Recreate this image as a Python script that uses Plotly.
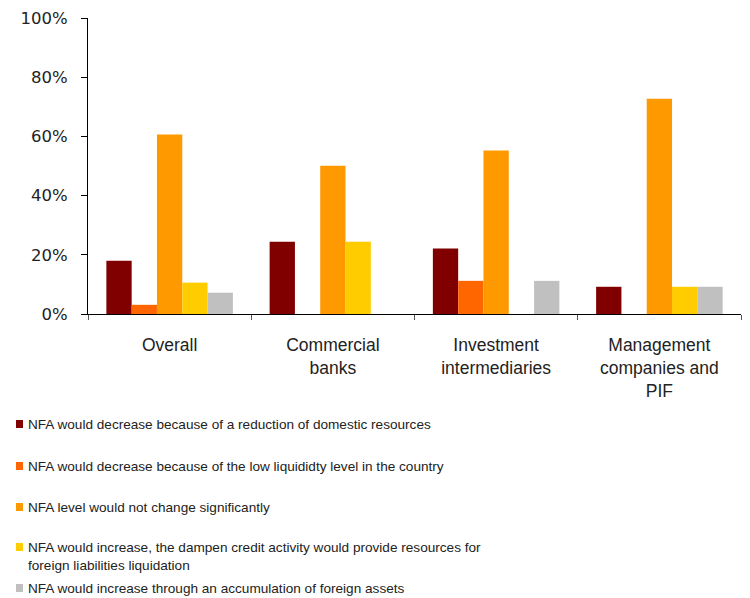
import plotly.graph_objects as go

categories = [
    "Overall",
    "Commercial<br>banks",
    "Investment<br>intermediaries",
    "Management<br>companies and<br>PIF",
]

series_names = [
    "NFA would decrease because of a reduction of domestic resources",
    "NFA would decrease because of the low liquididty level in the country",
    "NFA level would not change significantly",
    "NFA would increase, the dampen credit activity would provide resources for<br>foreign liabilities liquidation",
    "NFA would increase through an accumulation of foreign assets",
]

decrease_domestic = [18.0, 24.4, 22.1, 9.2]
decrease_liquidity = [3.1, 0.0, 11.2, 0.0]
no_change = [60.6, 50.1, 55.2, 72.7]
increase_credit = [10.6, 24.4, 0.0, 9.2]
increase_foreign = [7.2, 0.0, 11.2, 9.2]

series_values = [decrease_domestic, decrease_liquidity, no_change,
                 increase_credit, increase_foreign]
colors = ["#800000", "#FF6600", "#FF9900", "#FFCC00", "#C0C0C0"]

y_ticks = [0, 20, 40, 60, 80, 100]
y_ticktext = [f"{v}%" for v in y_ticks]

# plot-area geometry in pixels (used for the hand-built legend below)
W, H = 750, 598
L, R, T, B = 88, 9, 18, 284
PW, PH = W - L - R, H - T - B


def to_paper(px, py):
    return (px - L) / PW, (H - B - py) / PH


fig = go.Figure()
for name, vals, col in zip(series_names, series_values, colors):
    fig.add_trace(go.Bar(
        x=categories, y=vals, name=name,
        marker=dict(color=col, line=dict(width=0)),
        showlegend=False,
    ))

# legend: small square swatch followed by the series text
legend_rows = [424, 466, 507, 547, 588]
shapes, annotations = [], []
for name, col, cy in zip(series_names, colors, legend_rows):
    x0, y0 = to_paper(16, cy - 4)
    x1, y1 = to_paper(23, cy + 4)
    shapes.append(dict(type="rect", xref="paper", yref="paper",
                       x0=x0, x1=x1, y0=y1, y1=y0,
                       fillcolor=col, line=dict(width=0)))
    tx, ty = to_paper(26, cy - 9.5)
    annotations.append(dict(
        xref="paper", yref="paper", x=tx, y=ty,
        xanchor="left", yanchor="top", align="left",
        text=name, showarrow=False,
        font=dict(size=13.6, color="#222222",
                  family="Liberation Sans, Arial, sans-serif"),
    ))

fig.update_layout(
    width=W, height=H,
    margin=dict(l=L, r=R, t=T, b=B, autoexpand=False),
    paper_bgcolor="white", plot_bgcolor="white",
    barmode="group", bargap=0.225, bargroupgap=0,
    font=dict(family="Liberation Sans, Arial, sans-serif", color="#222222"),
    showlegend=False,
    shapes=shapes,
    annotations=annotations,
)

fig.update_xaxes(
    showline=True, linecolor="#000000", linewidth=1,
    ticks="outside", ticklen=5, tickcolor="#555555",
    tickson="boundaries", ticklabelstandoff=15,
    tickfont=dict(size=17.5, color="#222222"),
    showgrid=False,
)
fig.update_yaxes(
    range=[0, 100], tickvals=y_ticks, ticktext=y_ticktext,
    showline=True, linecolor="#000000", linewidth=1,
    ticks="outside", ticklen=6, tickcolor="#000000",
    ticklabelstandoff=10,
    tickfont=dict(size=16.5, color="#222222",
                  family="DejaVu Sans, Verdana, sans-serif"),
    showgrid=False, zeroline=False,
)

fig.write_html("out.html")
